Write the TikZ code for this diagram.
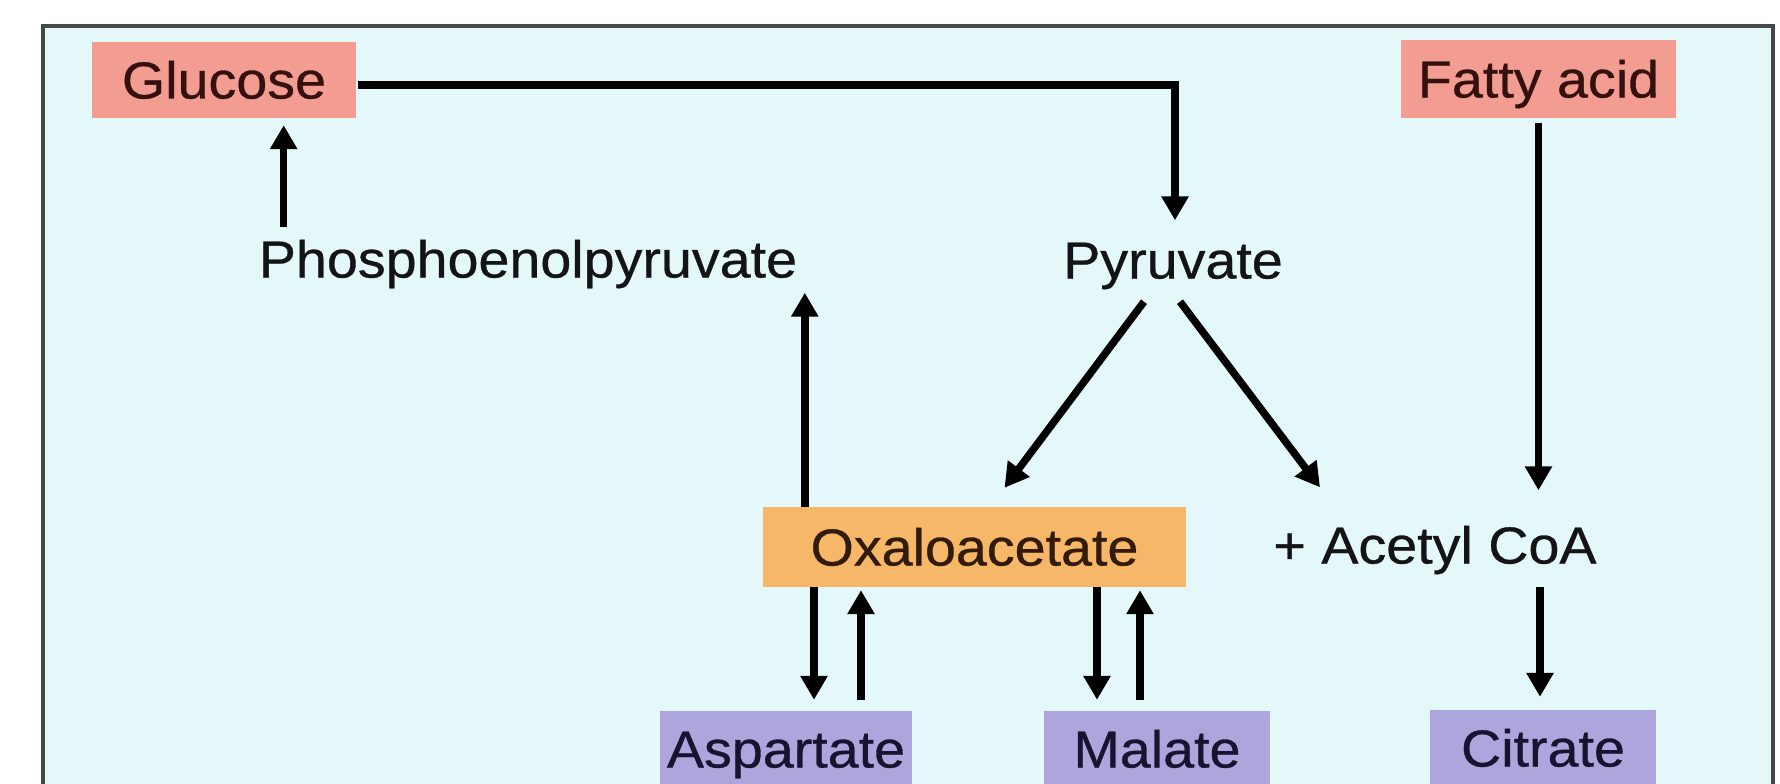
\documentclass[tikz,border=0pt]{standalone}
\usepackage{fontspec}
\setmainfont{Liberation Sans}[FakeStretch=1.07,FakeBold=0.6]
\usetikzlibrary{arrows.meta,calc}

\definecolor{panelbg}{RGB}{228,248,250}
\definecolor{framecol}{RGB}{70,72,74}
\definecolor{salmon}{RGB}{242,156,146}
\definecolor{orangebox}{RGB}{246,184,104}
\definecolor{lilac}{RGB}{172,166,220}
\definecolor{maroontext}{RGB}{52,16,14}
\definecolor{browntext}{RGB}{50,26,12}
\definecolor{navytext}{RGB}{22,20,48}
\definecolor{inktext}{RGB}{20,20,22}

\tikzset{
  lbl/.style={inner sep=0pt, text height=37pt, text depth=0pt,
              font=\fontsize{52}{60}\selectfont, text=inktext},
  sugarbox/.style={lbl, fill=salmon, text=maroontext},
  keybox/.style={lbl, fill=orangebox, text=browntext},
  endbox/.style={lbl, fill=lilac, text=navytext, minimum height=76pt},
  arr/.style={line width=7.5pt, draw=black,
              -{Triangle[length=24pt,width=26pt]}},
}

\begin{document}
\begin{tikzpicture}[x=1pt,y=-1pt]
\useasboundingbox (0,0) rectangle (1780,784);
\clip (0,0) rectangle (1780,784);

% panel with frame
\fill[white] (0,0) rectangle (1780,784);
\draw[framecol, line width=4pt, fill=panelbg] (43,26) rectangle (1773,820);

% metabolites
\node[sugarbox, minimum width=264pt, minimum height=76pt] (glucose) at (224,80) {Glucose};
\node[sugarbox, minimum width=275pt, minimum height=78pt] (fatty) at (1538.5,79) {Fatty acid};
\node[lbl] (pep) at (528,259) {Phosphoenolpyruvate};
\node[lbl] (pyr) at (1173,260) {Pyruvate};
\node[keybox, minimum width=423pt, minimum height=80pt] (oxa) at (974.5,547) {Oxaloacetate};
\node[lbl] (acetyl) at (1435,545) {+ Acetyl CoA};
\node[endbox, minimum width=252pt] (asp) at (786,749) {Aspartate};
\node[endbox, minimum width=226pt] (mal) at (1157,749) {Malate};
\node[endbox, minimum width=226pt] (cit) at (1543,748) {Citrate};

% glucose to pyruvate
\draw[arr] ($(glucose.east)+(2,5)$) -| ($(pyr.north)+(2,-21)$);
% phosphoenolpyruvate to glucose
\draw[arr] ($(pep.north west)+(25,-13)$) coordinate (p1)
  -- ($(p1 |- glucose.south)+(0,7)$);
% oxaloacetate to phosphoenolpyruvate
\draw[arr] ($(oxa.north west)+(42,0)$) coordinate (o1)
  -- ($(o1 |- pep.south)+(0,15)$);
% pyruvate branches
\draw[arr] ($(pyr.south)+(-29,23)$) -- ($(oxa.north)+(30,-19)$);
\draw[arr] ($(pyr.south)+(7,23)$) -- ($(acetyl.north)+(-115,-39)$);
% fatty acid to acetyl CoA
\draw[arr] ($(fatty.south)+(0,5)$) -- ($(fatty.south |- acetyl.north)+(0,-36)$);
% acetyl CoA to citrate
\draw[arr] ($(cit.north |- acetyl.south)+(-3,23)$) -- ($(cit.north)+(-3,-13)$);
% oxaloacetate <-> aspartate
\draw[arr] ($(asp.north |- oxa.south)+(28,0)$) -- ($(asp.north)+(28,-11)$);
\draw[arr] ($(asp.north)+(75,-11)$) -- ($(asp.north |- oxa.south)+(75,3)$);
% oxaloacetate <-> malate
\draw[arr] ($(mal.north |- oxa.south)+(-60,0)$) -- ($(mal.north)+(-60,-11)$);
\draw[arr] ($(mal.north)+(-17,-11)$) -- ($(mal.north |- oxa.south)+(-17,3)$);
\end{tikzpicture}
\end{document}
